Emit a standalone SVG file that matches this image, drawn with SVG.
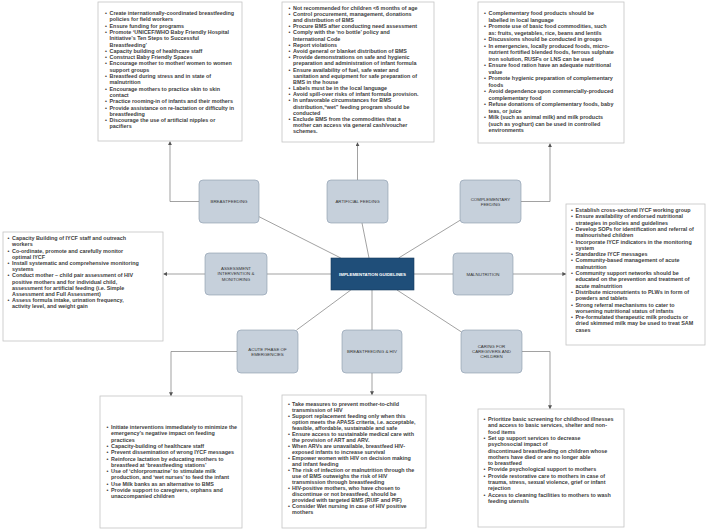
<svg xmlns="http://www.w3.org/2000/svg" width="707" height="531" viewBox="0 0 707 531">
<style>
.bg{fill:#fff}
.box{fill:#fff;stroke:#c4c4c4;stroke-width:0.8}
.bt{font-family:"Liberation Sans",Arial,sans-serif;font-size:5.4px;font-weight:bold;fill:#404040}
.nd{fill:#c6d0db;stroke:#8797aa;stroke-width:0.6}
.nt{font-family:"Liberation Sans",Arial,sans-serif;font-size:4.4px;fill:#333;text-anchor:middle}
.cn{fill:#1f4e79;stroke:#16395a;stroke-width:0.6}
.ct{font-family:"Liberation Sans",Arial,sans-serif;font-size:4.4px;font-weight:bold;fill:#fff;text-anchor:middle}
.ln{fill:none;stroke:#7a7a7a;stroke-width:0.7}
.ar{fill:none;stroke:#7a7a7a;stroke-width:0.7;marker-end:url(#ah)}
</style>
<defs>
<marker id="ah" viewBox="0 0 6 6" refX="5.5" refY="3" markerWidth="4" markerHeight="4" orient="auto" markerUnits="userSpaceOnUse"><path d="M0,0L6,3L0,6z" fill="#555"/></marker>
</defs>
<rect class="bg" width="707" height="531"/>

<g id="connectors">
<line class="ln" x1="340.8" y1="258" x2="259" y2="216.7"/>
<line class="ln" x1="369" y1="258" x2="362" y2="223"/>
<line class="ln" x1="398.6" y1="258" x2="460.5" y2="220"/>
<line class="ln" x1="331" y1="274" x2="267" y2="274"/>
<line class="ln" x1="414" y1="274" x2="453" y2="274"/>
<line class="ln" x1="350.8" y1="290" x2="296.6" y2="330"/>
<line class="ln" x1="372" y1="290" x2="372" y2="330"/>
<line class="ln" x1="397" y1="290" x2="461.5" y2="332"/>
<polyline class="ar" points="199,201.5 170,201.5 170,141.5"/>
<polyline class="ar" points="357.5,180 357.5,142.5"/>
<polyline class="ar" points="521,201.5 550,201.5 550,143.5"/>
<polyline class="ar" points="205,274 163.5,274"/>
<polyline class="ar" points="513,274 566,274"/>
<polyline class="ar" points="237,351.5 171,351.5 171,396"/>
<polyline class="ar" points="372,373 372,395"/>
<polyline class="ar" points="522,351.5 550,351.5 550,409"/>
</g>

<g id="node-center"><rect class="cn" x="331" y="258" width="83" height="32"/><text class="ct" x="372.5" y="275.5">IMPLEMENTATION GUIDELINES</text></g>
<g id="node-breastfeeding"><rect class="nd" x="199" y="180" width="60" height="43" rx="4"/><text class="nt" x="229" y="203">BREASTFEEDING</text></g>
<g id="node-artificial"><rect class="nd" x="327" y="180" width="61" height="43" rx="4"/><text class="nt" x="357.5" y="203">ARTIFICIAL FEEDING</text></g>
<g id="node-complementary"><rect class="nd" x="460" y="180" width="61" height="43" rx="4"/><text class="nt" x="490.5" y="200.5">COMPLEMENTARY<tspan x="490.5" dy="5.4">FEEDING</tspan></text></g>
<g id="node-assessment"><rect class="nd" x="205" y="253" width="62" height="42" rx="4"/><text class="nt" x="236" y="270">ASSESSMENT<tspan x="236" dy="5.4">INTERVENTION &amp;</tspan><tspan x="236" dy="5.4">MONITORING</tspan></text></g>
<g id="node-malnutrition"><rect class="nd" x="453" y="253" width="60" height="42" rx="4"/><text class="nt" x="483" y="275.5">MALNUTRITION</text></g>
<g id="node-acute"><rect class="nd" x="237" y="330" width="61" height="43" rx="4"/><text class="nt" x="267.5" y="350.5">ACUTE PHASE OF<tspan x="267.5" dy="5.4">EMERGENCIES</tspan></text></g>
<g id="node-bfhiv"><rect class="nd" x="342" y="330" width="60" height="43" rx="4"/><text class="nt" x="372" y="353">BREASTFEEDING &amp; HIV</text></g>
<g id="node-caring"><rect class="nd" x="461" y="330" width="61" height="43" rx="4"/><text class="nt" x="491.5" y="347.5">CARING FOR<tspan x="491.5" dy="5.4">CAREGIVERS AND</tspan><tspan x="491.5" dy="5.4">CHILDREN</tspan></text></g>

<g id="box-breastfeeding" transform="translate(98,2)">
<rect class="box" width="144" height="139"/>
<text class="bt" y="6.7">
<tspan x="7" dy="6.3">•</tspan><tspan x="11.5">Create internationally-coordinated breastfeeding</tspan>
<tspan x="11.5" dy="6.3">policies for field workers</tspan>
<tspan x="7" dy="6.3">•</tspan><tspan x="11.5">Ensure funding for programs</tspan>
<tspan x="7" dy="6.3">•</tspan><tspan x="11.5">Promote ‘UNICEF/WHO Baby Friendly Hospital</tspan>
<tspan x="11.5" dy="6.3">Initiative’s Ten Steps to Successful</tspan>
<tspan x="11.5" dy="6.3">Breastfeeding’</tspan>
<tspan x="7" dy="6.3">•</tspan><tspan x="11.5">Capacity building of healthcare staff</tspan>
<tspan x="7" dy="6.3">•</tspan><tspan x="11.5">Construct Baby Friendly Spaces</tspan>
<tspan x="7" dy="6.3">•</tspan><tspan x="11.5">Encourage mother to mother/ women to women</tspan>
<tspan x="11.5" dy="6.3">support groups</tspan>
<tspan x="7" dy="6.3">•</tspan><tspan x="11.5">Breastfeed during stress and in state of</tspan>
<tspan x="11.5" dy="6.3">malnutrition</tspan>
<tspan x="7" dy="6.3">•</tspan><tspan x="11.5">Encourage mothers to practice skin to skin</tspan>
<tspan x="11.5" dy="6.3">contact</tspan>
<tspan x="7" dy="6.3">•</tspan><tspan x="11.5">Practice rooming-in of infants and their mothers</tspan>
<tspan x="7" dy="6.3">•</tspan><tspan x="11.5">Provide assistance on re-lactation or difficulty in</tspan>
<tspan x="11.5" dy="6.3">breastfeeding</tspan>
<tspan x="7" dy="6.3">•</tspan><tspan x="11.5">Discourage the use of artificial nipples or</tspan>
<tspan x="11.5" dy="6.3">pacifiers</tspan>
</text>
</g>

<g id="box-artificial" transform="translate(282,2)">
<rect class="box" width="152" height="140"/>
<text class="bt" y="1.3">
<tspan x="6.5" dy="6.2">•</tspan><tspan x="11">Not recommended for children &lt;6 months of age</tspan>
<tspan x="6.5" dy="6.2">•</tspan><tspan x="11">Control procurement, management, donations</tspan>
<tspan x="11" dy="6.2">and distribution of BMS</tspan>
<tspan x="6.5" dy="6.2">•</tspan><tspan x="11">Procure BMS after conducting need assessment</tspan>
<tspan x="6.5" dy="6.2">•</tspan><tspan x="11">Comply with the ‘no bottle’ policy and</tspan>
<tspan x="11" dy="6.2">International Code</tspan>
<tspan x="6.5" dy="6.2">•</tspan><tspan x="11">Report violations</tspan>
<tspan x="6.5" dy="6.2">•</tspan><tspan x="11">Avoid general or blanket distribution of BMS</tspan>
<tspan x="6.5" dy="6.2">•</tspan><tspan x="11">Provide demonstrations on safe and hygienic</tspan>
<tspan x="11" dy="6.2">preparation and administration of infant formula</tspan>
<tspan x="6.5" dy="6.2">•</tspan><tspan x="11">Ensure availability of fuel, safe water and</tspan>
<tspan x="11" dy="6.2">sanitation and equipment for safe preparation of</tspan>
<tspan x="11" dy="6.2">BMS in the house</tspan>
<tspan x="6.5" dy="6.2">•</tspan><tspan x="11">Labels must be in the local language</tspan>
<tspan x="6.5" dy="6.2">•</tspan><tspan x="11">Avoid spill-over risks of infant formula provision.</tspan>
<tspan x="6.5" dy="6.2">•</tspan><tspan x="11">In unfavorable circumstances for BMS</tspan>
<tspan x="11" dy="6.2">distribution,“wet” feeding program should be</tspan>
<tspan x="11" dy="6.2">conducted</tspan>
<tspan x="6.5" dy="6.2">•</tspan><tspan x="11">Exclude BMS from the commodities that a</tspan>
<tspan x="11" dy="6.2">mother can access via general cash/voucher</tspan>
<tspan x="11" dy="6.2">schemes.</tspan>
</text>
</g>

<g id="box-complementary" transform="translate(478,2)">
<rect class="box" width="146" height="141"/>
<text class="bt" y="6.5">
<tspan x="6" dy="6.5">•</tspan><tspan x="10.5">Complementary food products should be</tspan>
<tspan x="10.5" dy="6.5">labelled in local language</tspan>
<tspan x="6" dy="6.5">•</tspan><tspan x="10.5">Promote use of basic food commodities, such</tspan>
<tspan x="10.5" dy="6.5">as: fruits, vegetables, rice, beans and lentils</tspan>
<tspan x="6" dy="6.5">•</tspan><tspan x="10.5">Discussions should be conducted in groups</tspan>
<tspan x="6" dy="6.5">•</tspan><tspan x="10.5">In emergencies, locally produced foods, micro-</tspan>
<tspan x="10.5" dy="6.5">nutrient fortified blended foods, ferrous sulphate</tspan>
<tspan x="10.5" dy="6.5">iron solution, RUSFs or LNS can be used</tspan>
<tspan x="6" dy="6.5">•</tspan><tspan x="10.5">Ensure food ration have an adequate nutritional</tspan>
<tspan x="10.5" dy="6.5">value</tspan>
<tspan x="6" dy="6.5">•</tspan><tspan x="10.5">Promote hygienic preparation of complementary</tspan>
<tspan x="10.5" dy="6.5">foods</tspan>
<tspan x="6" dy="6.5">•</tspan><tspan x="10.5">Avoid dependence upon commercially-produced</tspan>
<tspan x="10.5" dy="6.5">complementary food</tspan>
<tspan x="6" dy="6.5">•</tspan><tspan x="10.5">Refuse donations of complementary foods, baby</tspan>
<tspan x="10.5" dy="6.5">teas, or juice</tspan>
<tspan x="6" dy="6.5">•</tspan><tspan x="10.5">Milk (such as animal milk) and milk products</tspan>
<tspan x="10.5" dy="6.5">(such as yoghurt) can be used in controlled</tspan>
<tspan x="10.5" dy="6.5">environments</tspan>
</text>
</g>

<g id="box-assessment" transform="translate(3,232)">
<rect class="box" width="160" height="109"/>
<text class="bt" y="2">
<tspan x="4.5" dy="6.2">•</tspan><tspan x="9">Capacity Building of IYCF staff and outreach</tspan>
<tspan x="9" dy="6.2">workers</tspan>
<tspan x="4.5" dy="6.2">•</tspan><tspan x="9">Co-ordinate, promote and carefully monitor</tspan>
<tspan x="9" dy="6.2">optimal IYCF</tspan>
<tspan x="4.5" dy="6.2">•</tspan><tspan x="9">Install systematic and comprehensive monitoring</tspan>
<tspan x="9" dy="6.2">systems</tspan>
<tspan x="4.5" dy="6.2">•</tspan><tspan x="9">Conduct mother – child pair assessment of HIV</tspan>
<tspan x="9" dy="6.2">positive mothers and for individual child,</tspan>
<tspan x="9" dy="6.2">assessment for artificial feeding (i.e. Simple</tspan>
<tspan x="9" dy="6.2">Assessment and Full Assessment)</tspan>
<tspan x="4.5" dy="6.2">•</tspan><tspan x="9">Assess formula intake, urination frequency,</tspan>
<tspan x="9" dy="6.2">activity level, and weight gain</tspan>
</text>
</g>

<g id="box-malnutrition" transform="translate(566,204)">
<rect class="box" width="139" height="141"/>
<text class="bt" y="1.7">
<tspan x="5" dy="6.3">•</tspan><tspan x="9.5">Establish cross-sectoral IYCF working group</tspan>
<tspan x="5" dy="6.3">•</tspan><tspan x="9.5">Ensure availability of endorsed nutritional</tspan>
<tspan x="9.5" dy="6.3">strategies in policies and guidelines</tspan>
<tspan x="5" dy="6.3">•</tspan><tspan x="9.5">Develop SOPs for identification and referral of</tspan>
<tspan x="9.5" dy="6.3">malnourished children</tspan>
<tspan x="5" dy="6.3">•</tspan><tspan x="9.5">Incorporate IYCF indicators in the monitoring</tspan>
<tspan x="9.5" dy="6.3">system</tspan>
<tspan x="5" dy="6.3">•</tspan><tspan x="9.5">Standardize IYCF messages</tspan>
<tspan x="5" dy="6.3">•</tspan><tspan x="9.5">Community-based management of acute</tspan>
<tspan x="9.5" dy="6.3">malnutrition</tspan>
<tspan x="5" dy="6.3">•</tspan><tspan x="9.5">Community support networks should be</tspan>
<tspan x="9.5" dy="6.3">educated on the prevention and treatment of</tspan>
<tspan x="9.5" dy="6.3">acute malnutrition</tspan>
<tspan x="5" dy="6.3">•</tspan><tspan x="9.5">Distribute micronutrients to PLWs in form of</tspan>
<tspan x="9.5" dy="6.3">powders and tablets</tspan>
<tspan x="5" dy="6.3">•</tspan><tspan x="9.5">Strong referral mechanisms to cater to</tspan>
<tspan x="9.5" dy="6.3">worsening nutritional status of infants</tspan>
<tspan x="5" dy="6.3">•</tspan><tspan x="9.5">Pre-formulated therapeutic milk products or</tspan>
<tspan x="9.5" dy="6.3">dried skimmed milk may be used to treat SAM</tspan>
<tspan x="9.5" dy="6.3">cases</tspan>
</text>
</g>

<g id="box-acute" transform="translate(100,396)">
<rect class="box" width="142" height="132"/>
<text class="bt" y="26.7">
<tspan x="6.5" dy="6.3">•</tspan><tspan x="11">Initiate interventions immediately to minimize the</tspan>
<tspan x="11" dy="6.3">emergency’s negative impact on feeding</tspan>
<tspan x="11" dy="6.3">practices</tspan>
<tspan x="6.5" dy="6.3">•</tspan><tspan x="11">Capacity-building of healthcare staff</tspan>
<tspan x="6.5" dy="6.3">•</tspan><tspan x="11">Prevent dissemination of wrong IYCF messages</tspan>
<tspan x="6.5" dy="6.3">•</tspan><tspan x="11">Reinforce lactation by educating mothers to</tspan>
<tspan x="11" dy="6.3">breastfeed at ‘breastfeeding stations’</tspan>
<tspan x="6.5" dy="6.3">•</tspan><tspan x="11">Use of ‘chlorpromazine’ to stimulate milk</tspan>
<tspan x="11" dy="6.3">production, and ‘wet nurses’ to feed the infant</tspan>
<tspan x="6.5" dy="6.3">•</tspan><tspan x="11">Use Milk banks as an alternative to BMS</tspan>
<tspan x="6.5" dy="6.3">•</tspan><tspan x="11">Provide support to caregivers, orphans and</tspan>
<tspan x="11" dy="6.3">unaccompanied children</tspan>
</text>
</g>

<g id="box-bfhiv" transform="translate(282,395)">
<rect class="box" width="144" height="133"/>
<text class="bt" y="4.5">
<tspan x="6" dy="6">•</tspan><tspan x="10">Take measures to prevent mother-to-child</tspan>
<tspan x="10" dy="6">transmission of HIV</tspan>
<tspan x="6" dy="6">•</tspan><tspan x="10">Support replacement feeding only when this</tspan>
<tspan x="10" dy="6">option meets the APASS criteria, i.e. acceptable,</tspan>
<tspan x="10" dy="6">feasible, affordable, sustainable and safe</tspan>
<tspan x="6" dy="6">•</tspan><tspan x="10">Ensure access to sustainable medical care with</tspan>
<tspan x="10" dy="6">the provision of ART and ARV.</tspan>
<tspan x="6" dy="6">•</tspan><tspan x="10">When ARVs are unavailable, breastfeed HIV-</tspan>
<tspan x="10" dy="6">exposed infants to increase survival</tspan>
<tspan x="6" dy="6">•</tspan><tspan x="10">Empower women with HIV on decision making</tspan>
<tspan x="10" dy="6">and infant feeding</tspan>
<tspan x="6" dy="6">•</tspan><tspan x="10">The risk of infection or malnutrition through the</tspan>
<tspan x="10" dy="6">use of BMS outweighs the risk of HIV</tspan>
<tspan x="10" dy="6">transmission through breastfeeding</tspan>
<tspan x="6" dy="6">•</tspan><tspan x="10">HIV-positive mothers, who have chosen to</tspan>
<tspan x="10" dy="6">discontinue or not breastfeed, should be</tspan>
<tspan x="10" dy="6">provided with targeted BMS (RUIF and PIF)</tspan>
<tspan x="6" dy="6">•</tspan><tspan x="10">Consider Wet nursing in case of HIV positive</tspan>
<tspan x="10" dy="6">mothers</tspan>
</text>
</g>

<g id="box-caring" transform="translate(478,409)">
<rect class="box" width="146" height="118"/>
<text class="bt" y="5.7">
<tspan x="5.5" dy="6.3">•</tspan><tspan x="10">Prioritize basic screening for childhood illnesses</tspan>
<tspan x="10" dy="6.3">and access to basic services, shelter and non-</tspan>
<tspan x="10" dy="6.3">food items</tspan>
<tspan x="5.5" dy="6.3">•</tspan><tspan x="10">Set up support services to decrease</tspan>
<tspan x="10" dy="6.3">psychosocial impact of</tspan>
<tspan x="10" dy="6.3">discontinued breastfeeding on children whose</tspan>
<tspan x="10" dy="6.3">mothers have died or are no longer able</tspan>
<tspan x="10" dy="6.3">to breastfeed</tspan>
<tspan x="5.5" dy="6.3">•</tspan><tspan x="10">Provide psychological support to mothers</tspan>
<tspan x="5.5" dy="6.3">•</tspan><tspan x="10">Provide restorative care to mothers in case of</tspan>
<tspan x="10" dy="6.3">trauma, stress, sexual violence, grief or infant</tspan>
<tspan x="10" dy="6.3">rejection</tspan>
<tspan x="5.5" dy="6.3">•</tspan><tspan x="10">Access to cleaning facilities to mothers to wash</tspan>
<tspan x="10" dy="6.3">feeding utensils</tspan>
</text>
</g>
</svg>
